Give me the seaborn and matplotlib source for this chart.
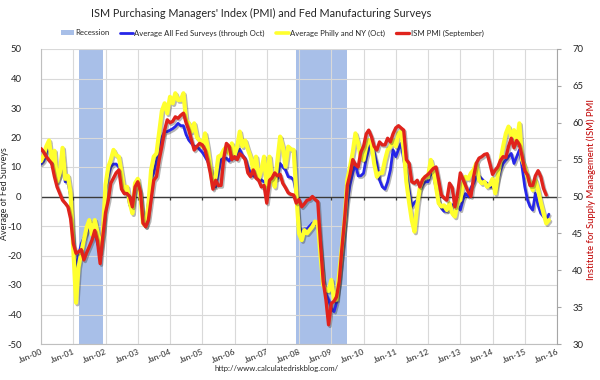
import numpy as np
import pandas as pd
import matplotlib
matplotlib.use("Agg")
import matplotlib.pyplot as plt
import matplotlib.patheffects as pe
from matplotlib.patches import Patch
from matplotlib.lines import Line2D
import seaborn as sns

# ---------------- data (monthly, starting Jan 2000) ----------------
# Average of all regional Fed manufacturing surveys (through Oct 2015)
fed_avg = [
    11, 12, 15, 17, 11, 13, 5, 7, 14, 5, 5, 0,                      # 2000
    -17, -25, -20, -16, -14, -12, -10, -9, -11, -16, -18, -11,      # 2001
    2, 7, 10, 11, 11, 10, 6, 2, 2, -3, -3, 3,                       # 2002
    4, 0, -8, -9, -2, 6, 8, 12, 17, 20, 22, 22,                     # 2003
    22.5, 23, 23.7, 24.8, 24, 24, 21, 19.1, 18, 17, 16.9, 16,       # 2004
    15, 13.5, 12, 10.1, 6, 3.3, 8, 12.4, 13, 13, 12, 14,            # 2005
    13, 14, 16, 14, 13, 10, 8, 7, 6.7, 6, 5.6, 5,                   # 2006
    4.5, 6, 5.6, 5.6, 6, 11.2, 10, 9, 6.7, 6.5, 5.6, 1.1,           # 2007
    -10, -12, -11, -11, -10, -9, -9, -10, -18, -28, -33, -35,       # 2008
    -38, -39, -36, -28, -20, -11, -2, 4, 8, 11, 7, 7,               # 2009
    7.9, 13, 16, 19, 15, 11.2, 5.6, 3.3, 2.5, 5, 9, 15.8,           # 2010
    13.5, 16, 18, 12.4, 7.9, 2.2, -3.4, -2, -1.2, 2.2, 4, 5,        # 2011
    5, 8, 7, 3, -1, -4, -5, -5, -4, -3, -2.3, -3,                   # 2012
    -4.6, -1, 1, 0, 3, 4.5, 6.7, 7, 6, 5, 4.5, 3.3,                 # 2013
    3.3, 2, 5.6, 9, 11.2, 12.4, 13.5, 14.6, 11.2, 13.5, 15.8, 10.1, # 2014
    3.3, -1.2, -3.4, -4.6, 1.1, -3, -5.7, -6.8, -8, -6,             # 2015 (Jan-Oct)
]

# Average of Philly Fed and Empire State (NY) surveys (through Oct 2015)
philly_ny = [
    12, 14, 17, 19, 12, 15.5, 5, 8, 16.5, 6, 7, 1,                  # 2000
    -18, -36, -24, -19, -14.7, -10.5, -8, -13, -8, -12, -19, -12.5, # 2001
    4, 10, 12.4, 15.8, 14, 13.5, 7.9, 2.2, 3.3, -2, -5.7, 4.5,      # 2002
    6, 0, -9, -10, -3, 9, 13.5, 14.6, 22, 29, 31.6, 28.2,           # 2003
    33.8, 31.6, 35, 32.7, 32.7, 35, 25.9, 24.8, 22, 24.8, 20, 19.1, # 2004
    16.9, 21.4, 16.9, 10, 3.3, 6.7, 13.5, 14, 15.8, 16.9, 14.6, 18, # 2005
    14, 17, 22, 17, 19, 16, 13.5, 9, 13.5, 6, 9, 13.5,              # 2006
    3.3, 13.5, 6, 3.3, 12, 20.3, 16.9, 10.1, 16.9, 16, 15.8, 1.1,   # 2007
    -12.5, -14.8, -11.4, -12.5, -11.4, -10.2, -8.5, -9, -20, -30, -31.7, -32,  # 2008
    -28.3, -35, -35, -26, -17, -8, 5.6, 10.1, 15, 21.4, 18, 13,     # 2009
    12.4, 16.9, 19.1, 18, 11.2, 6.7, 7.9, 8, 12.4, 15.8, 16.9, 19,  # 2010
    17, 21.4, 22, 16, 5, -2, -8, -11.9, -3, 3, 5.6, 6.7,            # 2011
    6.5, 12.4, 9, 3.3, -2.3, -3.4, -3, -4.6, -2.3, -5.7, -6.8, -2,  # 2012
    -1.2, 4.5, 6.7, 6, 7.9, 9, 11.2, 5.6, 4.5, 5, 3.3, 4,           # 2013
    6, 1.1, 7, 12, 17, 21.4, 23.7, 20.3, 22.5, 18, 24.8, 12.4,      # 2014
    10.1, 6.7, 4.5, 2.2, 5.6, 2.2, -2, -5.7, -9.1, -8,              # 2015 (Jan-Oct)
]

# ISM manufacturing PMI (through Sep 2015), right axis
ism_pmi = [
    56.5, 56.0, 55.4, 54.9, 54.5, 52.7, 51.3, 50.4, 49.5, 49.1, 48.6, 47.0,  # 2000
    43.6, 42.3, 42.5, 42.8, 41.4, 42.4, 43.2, 44.1, 45.4, 44.0, 40.9, 44.6,  # 2001
    47.8, 49.5, 51.8, 52.5, 53.2, 53.6, 51.0, 50.4, 50.4, 50.0, 48.6, 51.3,  # 2002
    52.0, 50.6, 46.4, 45.9, 46.8, 49.5, 52.2, 52.7, 55.0, 56.8, 59.0, 60.4,  # 2003
    60.0, 60.2, 60.8, 60.6, 61.0, 61.3, 60.0, 59.0, 57.6, 56.3, 56.8, 57.2,  # 2004
    57.0, 56.3, 55.0, 53.2, 51.0, 52.2, 51.5, 51.5, 55.2, 57.2, 56.8, 55.0,  # 2005
    55.4, 55.0, 55.8, 55.5, 55.0, 53.2, 52.7, 53.6, 52.5, 52.2, 51.3, 51.5,  # 2006
    49.1, 52.2, 52.5, 53.2, 52.8, 53.0, 51.8, 51.2, 50.5, 50.3, 50.2, 49.1,  # 2007
    49.6, 48.6, 49.0, 49.5, 49.6, 50.0, 49.6, 49.3, 43.5, 38.5, 36.0, 32.6,  # 2008
    35.5, 35.8, 36.4, 38.5, 43.0, 47.0, 51.5, 53.0, 55.0, 54.3, 54.0, 56.0,  # 2009
    56.8, 58.5, 59.0, 58.1, 56.8, 56.3, 57.4, 57.0, 57.0, 57.9, 57.4, 58.5,  # 2010
    59.3, 59.6, 59.3, 59.0, 55.0, 54.5, 52.0, 51.8, 52.2, 51.3, 52.3, 52.7,  # 2011
    53.0, 53.4, 53.8, 54.0, 52.2, 50.2, 49.8, 49.5, 51.8, 51.2, 48.6, 50.4,  # 2012
    53.2, 52.3, 51.5, 50.6, 50.0, 52.7, 54.5, 55.2, 55.4, 55.7, 55.8, 54.5,  # 2013
    53.0, 53.6, 54.0, 54.9, 55.4, 55.3, 56.8, 57.9, 56.6, 57.6, 57.0, 55.5,  # 2014
    53.5, 52.9, 51.5, 51.5, 52.8, 53.5, 52.7, 51.1, 50.2,                    # 2015 (Jan-Sep)
]

recession_start = ["2001-03-01", "2007-12-01"]
recession_end = ["2001-11-30", "2009-06-30"]

year_ticks = list(range(2000, 2017))
tick_labels = [f"Jan-{y % 100:02d}" for y in year_ticks]

series_labels = ["Average All Fed Surveys (through Oct)",
                 "Average Philly and NY (Oct)",
                 "ISM PMI (September)"]

# ---------------- frames ----------------
df_fed = pd.DataFrame({
    "date": pd.date_range("2000-01-01", periods=len(fed_avg), freq="MS"),
    "fed": fed_avg,
    "philly": philly_ny,
})
df_ism = pd.DataFrame({
    "date": pd.date_range("2000-01-01", periods=len(ism_pmi), freq="MS"),
    "ism": ism_pmi,
})

# ---------------- style ----------------
sns.set_theme(style="white")
plt.rcParams["font.family"] = ["Lato", "DejaVu Sans"]
plt.rcParams["axes.unicode_minus"] = False

C_BLUE = "#2626E8"
C_YELLOW = "#FFFF2E"
C_RED = "#E0231C"
C_REC = "#A8BFE8"
C_GRID = "#D9D9D9"
C_TXT = "#262626"

fig = plt.figure(figsize=(6, 3.8), dpi=100)
W, H = 600, 380
L, R, T, B = 41, 557, 49, 344
ax = fig.add_axes([L / W, 1 - B / H, (R - L) / W, (B - T) / H])

def shadow():
    return [pe.SimpleLineShadow(offset=(1.0, -1.2), shadow_color="#303030", alpha=0.35),
            pe.Normal()]

# recession bands
for i, (s, e) in enumerate(zip(recession_start, recession_end)):
    ax.axvspan(pd.Timestamp(s), pd.Timestamp(e), color=C_REC, lw=0, zorder=0.2,
               label="Recession" if i == 0 else "_nolegend_")

sns.lineplot(data=df_fed, x="date", y="fed", ax=ax, color=C_BLUE, lw=2.0,
             path_effects=shadow(), zorder=3, legend=False)
sns.lineplot(data=df_fed, x="date", y="philly", ax=ax, color=C_YELLOW, lw=3.0,
             path_effects=shadow(), zorder=4, legend=False)

x0, x1 = pd.Timestamp("2000-01-01"), pd.Timestamp("2016-01-01")
ax.set_xlim(x0, x1)
ax.set_ylim(-50, 50)

xt = [pd.Timestamp(f"{y}-01-01") for y in year_ticks]
ax.set_xticks(xt)
ax.set_xticklabels(tick_labels, rotation=22, ha="right", rotation_mode="anchor",
                   fontsize=6.0, color=C_TXT)
ax.tick_params(axis="x", length=0, pad=3)
ax.set_yticks(range(-50, 51, 10))
ax.tick_params(axis="y", length=0, pad=14, labelsize=6.8, labelcolor=C_TXT)
ax.grid(True, color=C_GRID, lw=0.8)
ax.set_axisbelow(True)
ax.set_xlabel("")
ax.set_ylabel("")
for sp in ["top", "right"]:
    ax.spines[sp].set_visible(False)
for sp in ["left", "bottom"]:
    ax.spines[sp].set_color("#BFBFBF")
    ax.spines[sp].set_linewidth(0.8)

# zero line with small year ticks
ax.axhline(0, color="#3A3A3A", lw=1.0, zorder=1.5)
ax.vlines(xt, -1.1, 0, color="#3A3A3A", lw=0.9, zorder=1.5)

# secondary axis: ISM PMI
ax2 = ax.twinx()
sns.lineplot(data=df_ism, x="date", y="ism", ax=ax2, color=C_RED, lw=2.4,
             path_effects=shadow(), zorder=5, legend=False)
ax2.set_ylim(30, 70)
ax2.set_xlim(x0, x1)
ax2.set_yticks(range(30, 71, 5))
ax2.tick_params(axis="y", length=3, width=0.8, color="#A6A6A6", pad=8,
                labelsize=6.8, labelcolor=C_TXT)
ax2.grid(False)
ax2.set_ylabel("")
ax2.set_xlabel("")
for sp in ["top", "left", "bottom"]:
    ax2.spines[sp].set_visible(False)
ax2.spines["right"].set_color("#A6A6A6")
ax2.spines["right"].set_linewidth(0.8)

# texts
fig.text(261 / W, 1 - 13 / H,
         "ISM Purchasing Managers' Index (PMI) and Fed Manufacturing Surveys",
         ha="center", va="center", fontsize=7.8, color=C_TXT)
fig.text(5 / W, 1 - 194 / H, "Average of Fed Surveys", rotation=90,
         ha="center", va="center", fontsize=6.4, color=C_TXT)
fig.text(591 / W, 1 - 190 / H, "Institute for Supply Management (ISM) PMI",
         rotation=90, ha="center", va="center", fontsize=6.8, color="#C00000")
fig.text(277 / W, 1 - 368 / H, "http://www.calculatedriskblog.com/",
         ha="center", va="center", fontsize=5.6, color=C_TXT)

# legend
handles = [Patch(facecolor=C_REC, edgecolor="none"),
           Line2D([], [], color=C_BLUE, lw=2.0),
           Line2D([], [], color=C_YELLOW, lw=2.6),
           Line2D([], [], color=C_RED, lw=2.4)]
labels = ["Recession"] + series_labels
fig.legend(handles, labels, loc="center", bbox_to_anchor=(272 / W, 1 - 33 / H),
           ncol=4, frameon=False, fontsize=5.6, handlelength=1.7,
           handletextpad=0.15, columnspacing=1.4, borderaxespad=0,
           handleheight=0.6, labelcolor=C_TXT)

fig.savefig("out.png", dpi=100)
